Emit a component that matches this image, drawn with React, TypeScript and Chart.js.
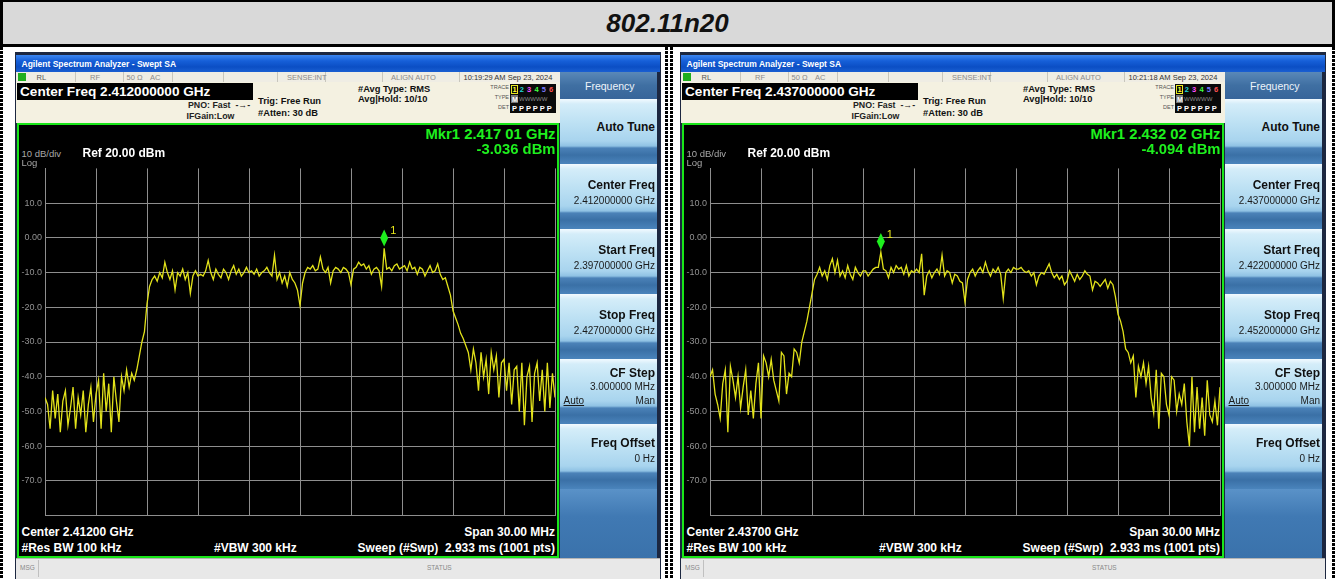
import React, { useEffect, useRef } from "react";
import { Chart, registerables } from "chart.js";

Chart.register(...registerables);

const FONT = '"Liberation Sans", Arial, Helvetica, sans-serif';

// ---------------- data ----------------
const PAGE_TITLE = "802.11n20";
const SPAN_MHZ = 30;
const REF_LEVEL_DBM = 20;
const DB_PER_DIV = 10;
const Y_DIVS = 10;
const X_DIVS = 10;

// trace levels (dBm), 201 points across the 30 MHz span, ch 2412 MHz
const trace2412 = [
  -46, -48, -55, -44, -52, -45, -56, -47, -44, -54, -49, -43, -55, -46, -51, -44, -56, -48, -43, -53, -45,
  -41, -55, -39, -50, -42, -56, -40, -47, -53, -40, -44, -38, -43, -39, -41, -38, -34, -30, -27, -19,
  -14, -12, -11, -12.5, -10, -11.5, -7, -10, -12, -9.5, -15, -10, -11, -9, -12, -10, -16, -11, -9.5, -11,
  -10.5, -11, -9.5, -6.5, -10, -12, -9, -10.5, -11.5, -9, -10, -12, -9.5, -8, -10.5, -9, -11, -10, -8.5, -10,
  -9.5, -10.5, -9, -11, -10, -9.5, -8.5, -10, -11, -5, -12, -10, -13, -11, -14, -10, -12, -13, -15, -19.5,
  -13, -10, -8.5, -9, -8, -9.5, -9, -5.5, -9, -10, -8.5, -13, -9.5, -8.5, -9, -10, -8.5, -9, -10, -13.5,
  -9, -8.5, -7, -8, -7.5, -9, -8, -10.5, -9, -8.5, -9.5, -14, -3.036, -9, -8.5, -9.5, -8, -7.5, -9, -8.5,
  -8, -9.5, -7, -9, -8.5, -10.5, -8.5, -9, -11, -9.5, -8, -10, -9.5, -7.5, -10.5, -12, -11.5, -14, -16.5, -21,
  -23, -25, -27.5, -29, -31, -33, -38, -32, -36, -44, -33, -40, -35, -45, -33, -38, -34, -46, -36, -35,
  -44, -36, -48, -38, -37, -50, -36, -54, -40, -37, -53, -39, -36, -47, -38, -50, -36, -49, -39, -46,
];

// trace levels (dBm), ch 2437 MHz
const trace2437 = [
  -40, -38, -45, -48, -52, -42, -38, -56, -37, -41, -46, -40, -49, -43, -38, -51, -44, -52, -42, -36, -52,
  -34, -36, -40, -35, -41, -44, -47, -33, -34, -45, -39, -40, -32, -33, -36, -30, -27, -24, -20, -16,
  -12, -10.5, -8.5, -11, -9.5, -12, -8, -6, -10, -6.5, -11, -9.5, -11.5, -8, -10.5, -12, -8.5, -10, -11, -9.5,
  -9.5, -11, -10, -9, -8.5, -8.5, -4.094, -9, -9.5, -11.5, -8.5, -10, -8, -9, -8.5, -10.5, -8, -11, -9.5, -10,
  -9, -10, -4.6, -16.5, -11, -9.5, -11.5, -10, -9, -10.5, -5, -11, -9.5, -10, -13, -10.5, -11, -12.5, -13, -18.5,
  -12, -10, -9, -11, -9.5, -8.5, -10, -7, -9.5, -11, -9, -10, -8.5, -10.5, -17.5, -10, -9, -10, -8.5, -9,
  -9, -8.5, -9.5, -10, -9.5, -11, -10, -13.5, -11, -10, -10.5, -9, -7.5, -10, -11.5, -10.5, -12, -11, -13.5, -12.5,
  -9.5, -11, -12.5, -10.5, -12, -11, -9.5, -10.5, -11, -15, -12.5, -13, -14, -13, -12, -14.5, -12.5, -13.5, -17, -22,
  -24, -27, -32, -33, -36, -34, -46, -37, -40, -36, -42, -37, -46, -50.5, -38, -55, -39, -40, -48, -51,
  -40, -41, -50, -45, -48, -42, -53, -60, -40, -56, -43, -55, -46, -57, -41, -51, -53, -47, -54, -43,
];

const traces = [trace2412, trace2437];
const markerIndices = [133, 67];
const markerFreqLabels = ["2.417 01 GHz", "2.432 02 GHz"];
const centerFreqLabels = ["2.412000000 GHz", "2.437000000 GHz"];
const startFreqLabels = ["2.397000000 GHz", "2.422000000 GHz"];
const stopFreqLabels = ["2.427000000 GHz", "2.452000000 GHz"];
const centerShortLabels = ["2.41200 GHz", "2.43700 GHz"];
const timestamps = ["10:19:29 AM Sep 23, 2024", "10:21:18 AM Sep 23, 2024"];

// ---------------- style constants ----------------
const GRID = "#8e8e8e";
const TRACE_COLOR = "#e2e21a";
const MKR_GREEN = "#1ef01e";
const PANEL_DX = 665;

const markerPlugin = {
  id: "mkr",
  afterDatasetsDraw(chart: any, _args: any, opts: any) {
    const meta = chart.getDatasetMeta(0);
    const pt = meta.data[opts.index];
    if (!pt) return;
    const ctx = chart.ctx;
    const x = pt.x;
    const y = pt.y;
    ctx.save();
    ctx.fillStyle = MKR_GREEN;
    ctx.beginPath();
    ctx.moveTo(x, y - 19);
    ctx.lineTo(x + 4, y - 10.5);
    ctx.lineTo(x, y - 2);
    ctx.lineTo(x - 4, y - 10.5);
    ctx.closePath();
    ctx.fill();
    ctx.fillStyle = "#e8e81a";
    ctx.font = "11px " + FONT;
    ctx.textBaseline = "alphabetic";
    ctx.fillText("1", x + 6, y - 14);
    ctx.restore();
  },
};

function TraceChart({ left, levels, markerIndex }: { left: number; levels: number[]; markerIndex: number }) {
  const ref = useRef<HTMLCanvasElement>(null);
  useEffect(() => {
    const canvas = ref.current;
    if (!canvas) return;
    const n = levels.length - 1;
    const half = SPAN_MHZ / 2;
    const data = levels.map((v, i) => ({ x: (i * SPAN_MHZ) / n - half, y: v }));
    const bottom = REF_LEVEL_DBM - DB_PER_DIV * Y_DIVS;
    const chart = new Chart(canvas, {
      type: "line",
      data: {
        datasets: [
          {
            data,
            borderColor: TRACE_COLOR,
            borderWidth: 1.3,
            pointRadius: 0,
            fill: false,
            tension: 0,
          },
        ],
      },
      options: {
        animation: false,
        responsive: false,
        maintainAspectRatio: false,
        events: [],
        layout: { padding: { top: 5, right: 2, bottom: 2, left: 0 } },
        plugins: {
          legend: { display: false },
          tooltip: { enabled: false },
          mkr: { index: markerIndex },
        } as any,
        scales: {
          x: {
            type: "linear",
            min: -half,
            max: half,
            ticks: { stepSize: SPAN_MHZ / X_DIVS, display: false },
            grid: { color: GRID, lineWidth: 1, drawTicks: false },
            border: { color: GRID, width: 1 },
            afterFit: (s: any) => {
              s.height = 0;
            },
          },
          y: {
            type: "linear",
            min: bottom,
            max: REF_LEVEL_DBM,
            ticks: {
              stepSize: DB_PER_DIV,
              color: "#929292",
              font: { size: 9, family: FONT },
              padding: 3,
              callback: (v: any) => {
                const n2 = Number(v);
                if (n2 === REF_LEVEL_DBM || n2 === bottom) return null;
                return n2 === 0 ? "0.00" : n2.toFixed(1);
              },
            },
            grid: { color: GRID, lineWidth: 1, drawTicks: false },
            border: { color: GRID, width: 1 },
            afterFit: (s: any) => {
              s.width = 27;
            },
          },
        },
      } as any,
      plugins: [markerPlugin as any],
    });
    return () => chart.destroy();
  }, [levels, markerIndex]);
  return (
    <canvas
      ref={ref}
      width={539}
      height={364}
      style={{ position: "absolute", left, top: 160, width: 539, height: 364 }}
    />
  );
}

type TxtProps = {
  x: number;
  y: number;
  s: number;
  c?: string;
  b?: boolean;
  right?: boolean;
  children?: React.ReactNode;
  extra?: React.CSSProperties;
};

function Txt({ x, y, s, c = "#000", b = false, right = false, children, extra }: TxtProps) {
  const st: React.CSSProperties = {
    position: "absolute",
    top: y - 0.13 * s,
    fontSize: s,
    lineHeight: 1,
    color: c,
    fontWeight: b ? "bold" : "normal",
    whiteSpace: "pre",
    fontFamily: FONT,
    ...extra,
  };
  if (right) {
    st.left = x - 400;
    st.width = 400;
    st.textAlign = "right";
  } else {
    st.left = x;
  }
  return <div style={st}>{children}</div>;
}

function Box({ x, y, w, h, st }: { x: number; y: number; w: number; h: number; st?: React.CSSProperties }) {
  return <div style={{ position: "absolute", left: x, top: y, width: w, height: h, boxSizing: "border-box", ...st }} />;
}

const BTN_BG =
  "linear-gradient(to bottom, #f2faff 0px, #d4edf9 5px, #bfe2f4 22px, #a8d4ee 42px, #8fc2e4 47px, #4b82b8 49px, #3a70a6 56px, #4a84bc 65px)";

function Panel({ p }: { p: number }) {
  const ox = p * PANEL_DX;
  const levels = traces[p];
  const mi = markerIndices[p];
  const mkrLevel = levels[mi].toFixed(3) + " dBm";
  const gray = "#8a8a8a";
  const dividers = [75, 123, 172, 223, 277, 325, 382, 459];
  const traceColors = ["#ffff30", "#20d8d8", "#ff50ff", "#40ff40", "#7b7bff", "#ff5050"];
  const buttons = [
    { top: 99, label: "Auto Tune", ly: 123, value: "", vy: 0 },
    { top: 164, label: "Center Freq", ly: 181, value: centerFreqLabels[p], vy: 197.5 },
    { top: 229, label: "Start Freq", ly: 246, value: startFreqLabels[p], vy: 262.5 },
    { top: 294, label: "Stop Freq", ly: 311, value: stopFreqLabels[p], vy: 327.5 },
    { top: 359, label: "CF Step", ly: 369, value: "3.000000 MHz", vy: 383 },
    { top: 424, label: "Freq Offset", ly: 439, value: "0 Hz", vy: 455 },
  ];
  return (
    <>
      {/* window frame */}
      <Box x={15 + ox} y={52} w={646} h={527} st={{ background: "#1c2740" }} />
      {/* title bar */}
      <Box
        x={16 + ox}
        y={55}
        w={644}
        h={17}
        st={{ background: "linear-gradient(to bottom, #3c86f0 0%, #165fd8 35%, #0b4ec4 70%, #1a5fd2 100%)" }}
      />
      <Txt x={21.5 + ox} y={61} s={8.5} c="#ffffff" b>
        Agilent Spectrum Analyzer - Swept SA
      </Txt>
      {/* status row */}
      <Box x={16 + ox} y={72} w={544} h={10} st={{ background: "#efede4" }} />
      {dividers.map((d, i) => (
        <Box key={i} x={d + ox} y={72} w={1} h={10} st={{ background: "#c8c6bc" }} />
      ))}
      <Box x={18 + ox} y={73} w={8} h={8} st={{ background: "#1fae1f" }} />
      <Txt x={36.5 + ox} y={75} s={7.5} c="#555">RL</Txt>
      <Txt x={90 + ox} y={75} s={7.5} c={gray}>RF</Txt>
      <Txt x={126.5 + ox} y={75} s={7.5} c={gray}>50 Ω</Txt>
      <Txt x={150 + ox} y={75} s={7.5} c={gray}>AC</Txt>
      <Txt x={287 + ox} y={75} s={7.5} c={gray}>SENSE:INT</Txt>
      <Txt x={391 + ox} y={75} s={7.5} c={gray}>ALIGN AUTO</Txt>
      <Txt x={463.5 + ox} y={75} s={7.5} c="#333">{timestamps[p]}</Txt>
      {/* header */}
      <Box x={16 + ox} y={82} w={544} h={41} st={{ background: "#f4f1e1" }} />
      <Box x={17 + ox} y={83} w={236} h={17} st={{ background: "#000" }} />
      <Txt x={20 + ox} y={86.8} s={13.6} c="#fff" b>
        {"Center Freq " + centerFreqLabels[p]}
      </Txt>
      <Txt x={188 + ox} y={102} s={8.8} b c="#222">PNO: Fast  -→-</Txt>
      <Txt x={186.5 + ox} y={113.5} s={8.8} b c="#222">IFGain:Low</Txt>
      <Txt x={258 + ox} y={98.5} s={9.3} b c="#111">Trig: Free Run</Txt>
      <Txt x={258 + ox} y={110.5} s={9.3} b c="#111">#Atten: 30 dB</Txt>
      <Txt x={358 + ox} y={86} s={9.3} b c="#111">#Avg Type: RMS</Txt>
      <Txt x={358 + ox} y={96} s={9.3} b c="#111">Avg|Hold: 10/10</Txt>
      <Txt x={509 + ox} y={86} s={5.5} c="#555" right>TRACE</Txt>
      <Txt x={509 + ox} y={96} s={5.5} c="#555" right>TYPE</Txt>
      <Txt x={509 + ox} y={106} s={5.5} c="#555" right>DET</Txt>
      <Box x={510 + ox} y={84} w={46} h={29} st={{ background: "#0a0a0a" }} />
      <Box x={511 + ox} y={85} w={7} h={9} st={{ border: "1px solid #e8e820" }} />
      {traceColors.map((col, i) => (
        <Txt key={"t" + i} x={512.5 + i * 7.3 + ox} y={86.5} s={7.5} b c={col}>
          {String(i + 1)}
        </Txt>
      ))}
      <Box x={511 + ox} y={95} w={7} h={8} st={{ background: "#777" }} />
      <Txt x={512 + ox} y={96.5} s={7} b c="#fff">M</Txt>
      <Txt x={519 + ox} y={97} s={6} c="#8a8a8a">WWWWW</Txt>
      <Txt x={512 + ox} y={106} s={7.5} b c="#fff">P P P P P P</Txt>
      {/* graticule region */}
      <Box x={17 + ox} y={123} w={542} h={435} st={{ background: "#000", border: "2px solid #19e619" }} />
      <TraceChart left={18 + ox} levels={levels} markerIndex={mi} />
      <Txt x={21.5 + ox} y={150.5} s={9.5} c="#a8a8a8">10 dB/div</Txt>
      <Txt x={21.5 + ox} y={159.5} s={9.5} c="#a8a8a8">Log</Txt>
      <Txt x={82.5 + ox} y={148.5} s={12} c="#fff" b>
        {"Ref " + REF_LEVEL_DBM.toFixed(2) + " dBm"}
      </Txt>
      <Txt x={555.5 + ox} y={128.5} s={14.8} c={MKR_GREEN} b right>
        {"Mkr1 " + markerFreqLabels[p]}
      </Txt>
      <Txt x={555.5 + ox} y={143.5} s={14.8} c={MKR_GREEN} b right>
        {mkrLevel}
      </Txt>
      <Txt x={21.5 + ox} y={527.5} s={12} c="#fff" b>
        {"Center " + centerShortLabels[p]}
      </Txt>
      <Txt x={21.5 + ox} y={543.5} s={12} c="#fff" b>#Res BW 100 kHz</Txt>
      <Txt x={214 + ox} y={543.5} s={12} c="#fff" b>#VBW 300 kHz</Txt>
      <Txt x={555 + ox} y={527.5} s={12} c="#fff" b right>Span 30.00 MHz</Txt>
      <Txt x={555 + ox} y={543.5} s={12} c="#fff" b right>
        {"Sweep (#Swp)  2.933 ms (1001 pts)"}
      </Txt>
      {/* soft-key menu */}
      <Box
        x={560 + ox}
        y={72}
        w={97}
        h={27}
        st={{ background: "linear-gradient(to bottom, #5a88b8 0%, #3f6fa2 50%, #37659a 100%)" }}
      />
      <Txt x={585 + ox} y={82} s={10.5} c="#eef4fa">Frequency</Txt>
      {buttons.map((bt, i) => (
        <React.Fragment key={"b" + i}>
          <Box x={560 + ox} y={bt.top} w={97} h={65} st={{ background: BTN_BG }} />
          <Txt x={655 + ox} y={bt.ly} s={12} b c="#101010" right>
            {bt.label}
          </Txt>
          {bt.value ? (
            <Txt x={655 + ox} y={bt.vy} s={10} c="#1a1a1a" right>
              {bt.value}
            </Txt>
          ) : null}
        </React.Fragment>
      ))}
      <Txt x={563.5 + ox} y={397.5} s={10} c="#1a1a1a" extra={{ textDecoration: "underline" }}>
        Auto
      </Txt>
      <Txt x={655 + ox} y={397.5} s={10} c="#1a1a1a" right>
        Man
      </Txt>
      <Box
        x={560 + ox}
        y={489}
        w={97}
        h={69}
        st={{ background: "linear-gradient(to bottom, #5a92c8 0%, #4079b3 40%, #3a72ab 100%)" }}
      />
      {/* message bar */}
      <Box x={16 + ox} y={558} w={644} h={21} st={{ background: "#e8e8e8", borderTop: "1px solid #b5b5b5" }} />
      <Box x={38 + ox} y={560} w={1} h={17} st={{ background: "#c0c0c0" }} />
      <Txt x={20 + ox} y={565.5} s={6.5} c="#888">MSG</Txt>
      <Txt x={427 + ox} y={565.5} s={6.5} c="#888">STATUS</Txt>
    </>
  );
}

function Dashed({ x }: { x: number }) {
  return (
    <div
      style={{
        position: "absolute",
        left: x,
        top: 47,
        width: 3,
        height: 532,
        background: "repeating-linear-gradient(to bottom, #000 0px, #000 3px, #fff 3px, #fff 4px)",
      }}
    />
  );
}

export default function App() {
  useEffect(() => {
    document.body.style.margin = "0";
  }, []);
  return (
    <div
      style={{
        position: "fixed",
        left: 0,
        top: 0,
        width: 1335,
        height: 579,
        background: "#fff",
        overflow: "hidden",
        fontFamily: FONT,
      }}
    >
      <div
        style={{
          position: "absolute",
          left: 0,
          top: 0,
          width: 1335,
          height: 47,
          boxSizing: "border-box",
          background: "#d9d9d9",
          border: "3px solid #000",
          borderTopWidth: 2,
        }}
      />
      <div
        style={{
          position: "absolute",
          left: 0,
          top: 10,
          width: 1335,
          textAlign: "center",
          fontSize: 26,
          lineHeight: "26px",
          fontWeight: "bold",
          fontStyle: "italic",
          color: "#111",
          fontFamily: FONT,
        }}
      >
        {PAGE_TITLE}
      </div>
      <Dashed x={0} />
      <Dashed x={665} />
      <Dashed x={670} />
      <Dashed x={1332} />
      <Panel p={0} />
      <Panel p={1} />
    </div>
  );
}
